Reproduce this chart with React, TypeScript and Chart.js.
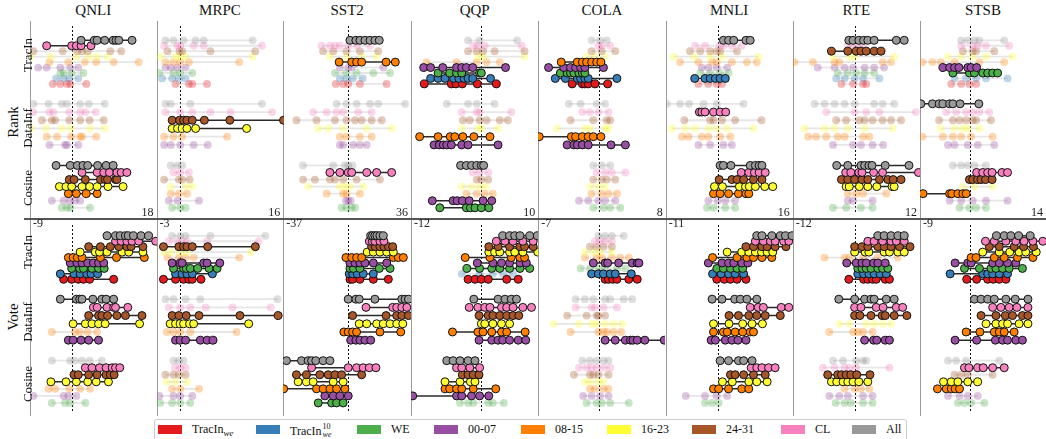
import React, { useEffect, useRef } from "react";
import { Chart, registerables } from "chart.js";
Chart.register(...registerables);

const FONT = "'Liberation Serif', 'Times New Roman', Times, serif";

const TASKS = ["QNLI", "MRPC", "SST2", "QQP", "COLA", "MNLI", "RTE", "STSB"];
const MIN_LABELS = ["-9", "-3", "-37", "-12", "-7", "-11", "-12", "-9"];
const MAX_LABELS = ["18", "16", "36", "10", "8", "16", "12", "14"];
const X_MIN = [-8.83, -3.36, -37.4, -12.1, -7.25, -11.0, -11.78, -9.06];
const X_MAX = [18.09, 15.57, 36.0, 9.93, 7.79, 16.0, 12.29, 13.77];
const MODES = ["Rank", "Vote"];
const GROUPS = ["TracIn", "DataInf", "Cosine"];

const METHODS = ["TracIn_we", "TracIn10_we", "WE", "00-07", "08-15", "16-23", "24-31", "CL", "All"];
const COLORS = ["#e41a1c", "#377eb8", "#4daf4a", "#984ea3", "#ff7f00", "#ffff33", "#a65628", "#f781bf", "#999999"];
// rows of each group, top to bottom (indices into METHODS)
const GROUP_METHODS = [
  [8, 7, 6, 5, 4, 3, 2, 1, 0],
  [8, 7, 6, 5, 4, 3],
  [8, 7, 6, 5, 4, 3, 2],
];

// ---------- data (22 rows per panel: TracIn 9 | DataInf 6 | Cosine 7) ----------
const QNLI_RANK = [
  [2, 4.8, 5.4, 7, 8.8, 9.4, 10, 12.8], [-5.3, 0, 1, 2, 4.1], [-8.1, -1.9, 1.2, 2.2, 3.4, 8.2, 10.5],
  [-8.7, -4.4, 1, 3.6, 5.4, 7.6], [-4.7, -0.7, 2.8, 5.2, 8.9, 14.2], [-7.1, -5.3, -2.4, -0.3, 1.4],
  [-2.4, -1.7, 0, 2.5], [-3.3, -1.7, -0.5, 1.4], [-4, -2.4, -1, -0.3, 3.1],
  [-8.1, -4.9, -2.1, -1, 1.8, 3.6, 7], [-8.2, -4.7, -3.9, -0.5, 1.8, 2.9, 5.1], [-6.3, -4.2, -3.5, -0.5, 1.8, 3.8, 6.8],
  [-8.7, -5.4, -2.1, -0.2, 3.9, 7], [-5.3, -3.1, -0.1, 1.8, 2.2, 5.2], [-4.7, -1.4, -1, 1.4],
  [-3.3, -0.3, 1.2, 2.4, 3.4, 5.5, 7.3, 8.8], [2.2, 5.4, 6.8, 8, 9.6, 10.5, 11.7], [-0.5, 0.5, 2.9, 6.1, 7.1, 7.6, 9.3, 9.6],
  [-2.6, -1.2, 0, 2.2, 3.8, 5.4, 7.7, 10.9], [-0.7, 1, 3.1, 5.4], [-4.2, -1.7, -0.3, 0.7, 1.8], [-2.1, -1, -0.3, 3.9],
];
const QNLI_VOTE = [
  [7.5, 9.3, 10.3, 11.4, 12, 13.1, 14.7, 16.3], [9.3, 10.5, 11.7, 12.8, 14.2, 17.8], [3.6, 6.1, 8.2, 10, 11.7, 12.6, 15.1],
  [1.8, 5, 5.9, 7.5, 10.7, 12.1, 15.1], [-0.7, 0.3, 1.2, 2.2, 6.1, 9.5, 15.4], [-0.3, 1.1, 2.2, 3.4, 4.6, 5.7, 6.8],
  [0, 1.7, 2.5, 4.3, 5.7, 6.9], [-2.4, 0.5, 1.8, 3.2, 4.1, 5.5], [-1.7, 0, 1.4, 2.5, 3.8, 8.9],
  [-2.4, 1, 1.7, 2.2, 4.5, 6.4, 7.3, 8.9], [4.6, 5.4, 7.5, 8.9, 9.3, 11.9], [3.6, 5.7, 6.4, 7.6, 9.6, 11.4, 14.9],
  [0.3, 2.9, 4.3, 5.7, 7.1, 14.4], [-4.2, 0.7, 1.8, 3.4, 5.4], [-0.7, 0.3, 2, 3.6, 5.7],
  [-4.2, -0.3, 0.7, 2.2, 3.8, 6.4], [2.9, 4.3, 5.9, 7.3, 8.6, 9.3, 10.2], [0.5, 1.4, 3.6, 5.4, 7.3, 8.2, 9],
  [-4.4, -1.2, 1, 3.4, 5.2, 7.8], [-4.9, -3.5, -0.5, 1.8, 3.9], [-8.1, -1.7, -0.7, 1], [-4.2, -1.4, -0.3, 2.9],
];
const MRPC_RANK = [
  [-2.1, -0.9, 0.6, 2.4, 3.6, 10.9], [-2.3, -0.3, 0.1, 2.1, 3.6, 12.3], [-1.8, 0, 0.4, 4.6, 11.3],
  [-2.8, -0.6, 0.1, 0.9, 10.9], [-2.1, -0.9, 0.1, 1.4, 8.9], [-2.1, -1.3, -0.3, 0.9],
  [-3, -0.9, 0.1, 1.9], [-2.6, -1.1, -0.1, 0.9], [-0.6, 1.4, 1.9, 4.1],
  [-2.1, -1.3, 1.6, 12.3], [-2.1, 0.1, 1.9, 4.6, 7.6, 13.8], [-1.1, 0, 0.6, 1.1, 1.9, 3.7, 7.5, 15.5],
  [-1.1, -0.3, 0.4, 1.1, 2.4, 10], [-2.3, -0.9, 0.4, 7.1], [-2.3, -1.3, 0.1, 2.1, 4.2],
  [-1.3, -0.3, 0.4], [-0.9, 0.1, 1.4], [-2.3, -0.1, 0.4, 1.5],
  [-1.3, 0.9, 1.9], [-1.3, -0.1, 1.1], [-1.6, -0.3, 2.9], [-1.1, 0.1, 0.9],
];
const MRPC_VOTE = [
  [-1.1, 0.1, 0.9, 4.6, 12.8], [-1.6, -0.3, 0.4, 1.1, 4.1, 11.8], [-2.4, -0.1, 0.6, 1.1, 1.9, 4.2, 11.3],
  [-2.3, -1.3, 0.1, 1.1, 10.6], [-1.8, -0.1, 0.9, 2.1, 8.9], [-1.1, 0.1, 0.4, 3.6, 4.1, 6],
  [-0.9, 0.6, 1, 1.6, 2.7, 4.4, 5.6], [-0.6, 0.4, 1.1, 1.9, 4.9], [-2.4, -0.6, 0.6, 1.4, 1.9, 3.2],
  [-2.1, -0.9, 0.9, 3.1, 14.6], [-1.6, 0.1, 1.6, 3.9, 7.9, 13.6], [-1.1, -0.1, 1, 2.9, 9, 14.7],
  [-1.4, -0.6, 0.1, 0.6, 1.5, 2.1, 10.3], [-1.9, -0.9, 0.1, 1.6, 8.5], [-0.6, 0.1, 0.9, 3.1, 4.1, 5],
  [-0.9, -0.1, 0.6], [-0.7, 0.1, 0.9], [-2.1, -0.9, -0.1, 0.9],
  [-1.9, -0.6, 1.1], [-1.1, 0.1, 2.9], [-3, -0.9, 0.1, 1.9], [-2.9, -1.1, 0.1, 1.6],
];
const SST2_RANK = [
  [1, 4.4, 6.7, 9.6, 12.5, 15.3, 17.8], [-15.3, -10.5, -7.6, -4.8, 0, 4.8, 12.5], [-14.4, -8.6, -1, 6.7, 17.2],
  [-10.5, -1, 7.7, 16.3], [-5.2, 2, 4.8, 7.7, 21.7, 27], [-4.8, 0, 2, 20.1],
  [-7.6, -1.3, 4.8, 14.4, 24], [-4.8, -1, 2.5, 8.3], [-7.1, -2.9, 0, 6.7, 22],
  [-6.7, -1, 4.8, 12.5, 17.2, 32.6], [-20.1, -12.4, -6.7, -2.9, 5.7, 13.4], [-29.7, -18.2, -7.6, -1, 3.9, 7.7, 13.4, 19.2],
  [-17.2, -11.5, -2.9, 10.6, 24.9], [-4.8, -1, 6.7, 13.4], [-4.8, -2.9, 2.9, 6.7, 10.6],
  [-25.9, -8.6, -1.9, 0, 2.5], [-10.5, -4.8, 0, 2, 10.6, 16.3, 24.9], [-25.9, -19.1, -10.5, -7.6, -2.9, 4.8, 18.2],
  [-23, -4.8, -1.9, 1, 8.6], [-12.4, -2.9, -1, 6.7], [-1.3, 0, 1.4], [-3.8, -1, 2, 3.9],
];
const SST2_VOTE = [
  [12.9, 14, 15.3, 16.5, 18.2, 20.1], [12.1, 13.8, 15.3, 18.2, 20.5], [13.4, 15.5, 18.2, 20.5, 23, 25.5],
  [10.9, 14.4, 18.2, 22.1, 25.9], [-1.3, 2, 4.8, 7.7, 25.9, 28.7, 31.6], [1, 3.9, 6.7, 9.6, 14.4, 22.1],
  [1, 2.9, 6.7, 17.8, 24], [0.6, 2.5, 5.2, 8.6, 14.4], [1, 2.5, 6.7, 14.4, 23],
  [0, 4.4, 6.3, 15.3, 30.7, 32.6, 34.5], [10.2, 25.5, 27.8, 30.7, 33.6], [2.5, 21.7, 27.8, 30.7, 34.5],
  [6.3, 10.6, 16.3, 20.1, 24, 27.8, 31.3], [-2.5, 0, 2.5, 4.8, 18.2, 30.1], [1.4, 4.4, 6.7, 9.6, 12.9],
  [-35.4, -26.8, -23, -21, -18.6, -14.4, -10.5], [-21, 0, 4.8, 8.6, 12.1, 15.9], [-29.7, -23.9, -16.3, -11.5, -7.6, -3.8, 7.7],
  [-28.7, -23.9, -20.1, -8.6, -2.9], [-37, -18.2, -14.4, -10.5, -6.7, -1.9], [-13.4, -8.6, -4.8, 0], [-17.2, -9.5, -6.7, -2.9],
];
const QQP_RANK = [
  [-2.2, -0.2, 6.3], [-1.3, -0.5, 0.7, 7.1], [-2.2, -0.7, 0.4, 2.4, 7.6],
  [-0.5, 0.4, 7.6], [-9.4, -4.2, -0.7, 1, 3.3], [-9.9, -8.7, -6.6, -4.2, -3.3, -2.5, -1.4, 4.3],
  [-7.4, -5.4, -4.2, -3.3, -0.2, 0.1], [-8.7, -7.4, -6.2, -4.7, -3.8, -2.9, -2.2, -1.4, 1.7], [-9.8, -5.1, -4.3, -3.2, -0.6, 2.7],
  [-5.9, -2.2, -0.7, 2.4], [-3.3, -0.7, -0.2, 5.3], [-3.1, -1.9, -0.2, 1, 3.3, 4.7],
  [-3.3, -0.5, 0.1, 3], [-10.6, -7.4, -5.3, -4.5, -3.1, -1.2, 1.6], [-8.1, -7.2, -6.5, -5.9, -5.1, -3.3, -2.2, 3],
  [-3.5, -2.5, -1.6, -0.7, 0.1, 0.5], [-1.4, -0.2, 1.3], [-0.7, 0.1, 1.3],
  [-3.3, -1.6, -0.2, 0.9], [-2.5, -0.7, 0.7, 2.1], [-8.4, -4.8, -4.1, -3.2, -2, 0.4, 1.9], [-7.1, -2.5, -1.8, -1, 0.1, 1.4],
];
const QQP_VOTE = [
  [3.8, 5, 5.9, 6.8, 8.5, 9.8], [2.7, 4.2, 5.6, 7.3, 9.1], [1.4, 3, 5, 6.8, 7.6, 9.1],
  [1.4, 2.4, 3.3, 5, 5.9, 7.3, 9.9], [-2.7, 1.6, 5.3, 6.8, 7.6], [-0.6, 2.1, 3.6, 5, 6.8, 7.9],
  [-2.4, -0.2, 1.9, 3.3, 5, 6.8, 8.5], [-3.3, -0.2, 2.1, 3.9, 5.6], [-2.2, -1, 0.1, 1.3, 4.5, 6.5],
  [-1.2, 3, 4.2, 5.3, 6.2], [-2, -0.5, 0.7, 1.6, 3.6, 4.5, 5.6, 7.3, 8.8], [-0.3, 1.3, 2.1, 3.3, 4.5, 5.6, 6.6],
  [0.1, 0.7, 2.1, 3.6, 5], [-4.9, -0.5, 0.4, 1.9, 3.6, 4.5, 7.7], [-0.3, 1.9, 3, 3.8, 5, 6.5, 7.8],
  [-5.9, -4.8, -3.6, -2.2, -1], [-4.2, -3.3, -1.9, -0.2], [-3.2, -2.2, -1.3, -0.3],
  [-6.2, -3.6, -1.8, -1], [-6.2, -5.4, -4.2, -3.3, -1.3, 2.6], [-11.8, -4.2, -3.3, -1.6, -0.2, 1.4], [-3.6, -2.2, -1.3, 1.3, 2.1, 4],
];
const COLA_RANK = [
  [-0.9, 0.1, 0.9], [-0.1, 0.3, 1.3], [-0.9, 0.3, 1.9],
  [-1.5, -0.5, 0.7], [-4.5, -2.6, -2, -1.5, -0.9, -0.3, 0.2], [-6, -4.2, -3.4, -2.8, -2.2, -1.7, 0.5],
  [-4.6, -3.8, -3.4, -3, -2.4, -2, -1.7], [-5.2, -4, -2.6, -2.2, -1.7, -1.3, 2.1], [-3.2, -2, -1.7, -1.3, -0.5, 1],
  [-3.6, -2.2, -0.3, 0.7], [-2, -1.1, -0.1, 1.1], [-3.4, -0.7, 0.9, 1.3],
  [-5, -1.7, -1.1, 0.7, 1.1], [-7.1, -3.3, -2.8, -2, -1.3, -0.7, 0.2], [-3.8, -3, -2.6, -2, -1.3, 1.4, 3.1],
  [-0.7, 0.3, 1.3], [-0.3, 0.7, 1.5, 3.1], [-0.7, 0.3, 0.9, 1.9],
  [-1.1, -0.1, 0.7], [-0.9, 0.3, 1.1, 2.1], [-2.4, -1.3, -0.1, 0.7, 1.9], [-0.7, 0.5, 1.3, 2.5],
];
const COLA_VOTE = [
  [-0.1, 0.7, 1.5, 2.9], [-0.5, 0.1, 0.7, 1.5], [-1.1, -0.3, 0.5, 1.5],
  [-1.7, -0.7, 0.1, 1.5], [-1.7, -0.3, 0.3, 1.5, 2.5, 3.5], [-0.7, 0.7, 1, 2.3, 3.9, 4.5, 4.7],
  [-2.2, -1.1, -0.1, 0.7, 2.1, 3.1], [-0.9, -0.1, 0.5, 1.3, 1.9, 3.8], [0.7, 1.1, 1.6, 2.1, 3.5, 4.5],
  [-2.8, -1.7, -0.7, 0.7, 1.3, 2.9, 3.9], [-2.8, -0.9, -0.5, 0.5, 2.1], [-3.8, -1.5, -0.3, -0.1, 0.7],
  [-5.4, -2.4, -0.9, -0.3, 0.7, 1.7, 2.7], [-3.4, -0.1, 0.5, 0.9, 1.7, 2.6], [0.7, 1.9, 3.1, 3.7, 4, 4.5, 5.4, 7.7],
  [-2, -1.1, -0.3, 0.5, 1.1], [-2.4, -1.5, -0.9, -0.3, 0.5, 1.3], [-3, -1.1, -0.7, -0.1, 1.1],
  [-1.7, -1.1, -0.1, 0.5], [-1.1, -0.5, 0.5, 1.1], [-1.9, -0.9, 0.1, 1.1], [-1.5, -0.3, 0.3, 1.3, 3.5],
];
const MNLI_RANK = [
  [1.2, 2.3, 3.4, 6, 6.9], [-4.8, -2.7, 0.5, 1.2, 3, 5.1], [-5.9, -3.7, -1.6, -0.2, 0.5, 4.1],
  [-9.4, -5.1, -1.6, 0.9, 8.7], [-8, -4.1, -1.2, -0.2, 3, 6.2, 8.3], [-3.4, -2, -0.2, 2],
  [-3.7, -1.6, 0.5, 2.3], [-4.9, -2.7, -1.6, -0.5, 0.5, 1.6], [-4.1, -2, -0.2, 0.9],
  [-10.8, -8, -6.1, -3, -0.2, 5.5], [-3.9, -3.4, -2.7, -0.9, 0.5, 1.7], [-7.1, -1.6, -0.9, 0.9, 3.7, 9.3],
  [-9.7, -6.9, -4.8, -2, -0.2, 2, 7.6], [-7.6, -6.2, -3.4, -2, 0.5, 2.7], [-4.1, -1.6, 1.2, 3],
  [0.5, 1.2, 2.8, 6.9, 8, 8.8, 9.4], [5, 6.6, 7.8, 8.8, 10.1], [0.3, 3, 4.1, 5.5, 7.6, 9.4],
  [-0.7, 1, 4.6, 5.9, 6.7, 8, 10, 11.7], [-0.9, 0.5, 2.3, 4.4, 6, 6.6], [-2, 0, 1.6, 3.7], [-2.3, -0.9, 1.6, 3.7],
];
const MNLI_VOTE = [
  [8.3, 9.4, 11.5, 13.3, 14.4, 15.8], [8, 9.7, 11.2, 12.2, 14, 15.1], [6, 7.6, 9.4, 10.5, 12.2, 14.5],
  [2, 5.1, 6.6, 8, 9.3, 10.5, 11.7], [-1.1, 4.1, 6.2, 7.6, 9.4, 11.5], [-2, 0.9, 2.3, 3.4, 5.1, 6.4],
  [-0.2, 1.2, 2.7, 4.1, 5.3], [-1.1, 0.7, 2.3, 3.7, 5.5], [-0.2, 1.4, 2.7, 4.1, 6],
  [-1.2, 0.9, 3.6, 4.8, 6.2, 8.3], [6.9, 8.6, 9.7, 13.5, 15.1], [2.4, 4.4, 6.6, 8.3, 10.1, 13.3],
  [-0.9, 2.4, 5.3, 7.3, 9.5], [-0.9, 1.2, 2, 3.7, 5.3, 6.9, 7.6], [-1.4, -0.5, 1.6, 3, 4.3, 6],
  [0.5, 2.3, 4.4, 5.5, 7.3], [7.1, 8.3, 9.4, 10.8, 12.2], [2.7, 3.7, 5.5, 7.6, 10.1],
  [1, 3.1, 6.6, 8.3, 10.5], [-0.9, 0.2, 2.3, 5.1, 6.6], [-6.8, -2.7, -0.2, 2], [-2.7, -1.2, 0.2],
];
const RTE_RANK = [
  [-1.2, -0.4, 0.7, 1.6, 2.4, 3.6, 7.8, 9.3], [-1.4, -0.4, 0.5, 1.5], [-4.5, -1.4, 0.2, 1.1, 2.1, 3.6, 4.9],
  [-4.2, -1.1, -0.1, 7.4], [-11.5, -8, -3.9, -3, 5.2, 6.8], [-7.1, -3.9, -2, -0.4, 1.8, 3.6, 5.5],
  [-3.3, -1.4, 0.2, 1.8, 3.6], [-3.6, -2, -0.1, 1.5, 4.6], [-2.6, -0.4, 1.5, 2.1],
  [-7.7, -5.8, -3.9, -2, -0.1, 3.6, 5.2, 7.4], [-5.5, -0.1, 2.1, 4.6, 11.5], [-3.6, -1.7, 0.8, 1.8, 3.3, 5.2, 6.8, 8.7],
  [-9.6, -5.8, -3.9, -1.4, 1.8, 7.1], [-8.9, -7.4, -5.5, -3.3, -2, 1.5, 2.7], [-4.2, -0.4, 1.1, 3.3, 5.3],
  [-3.5, -1.4, 1.1, 1.8, 2.6, 3.2, 5.7, 10.2], [-1.8, -0.8, 0.7, 1.3, 3.5, 5.2, 12], [-2.6, -1.4, -0.1, 1.3, 2.4, 4.6, 6.2, 7.2, 8.7],
  [-1.7, -1.1, 0.8, 2.4, 4.1, 7, 7.4], [-1.4, 0.2, 1.5, 5.9], [-1.4, -0.4, 3.3], [-4.2, -1.7, 1.1, 3.3],
];
const RTE_VOTE = [
  [4.3, 5.5, 6.8, 8.1, 9.3], [2.4, 3.6, 5.2, 6.8, 7.8, 9.3], [-0.1, 1.3, 2.4, 4.3, 5.5, 6.8, 8.4, 10.4],
  [-0.1, 1.9, 2.6, 5.5, 6.5, 8.1, 9.3], [-5.8, -2, -1.1, 1.5, 4.3, 8.1], [-1.6, 0.2, 1.3, 2.1, 3.5, 4.3, 5.7],
  [0.5, 1.3, 2.1, 3, 4.3, 5.2, 6.2], [0.5, 1.6, 2.6, 3.6, 4.7, 5.9], [-1.2, 1.6, 2.4, 3.3, 4, 5.7, 6.5],
  [-3.1, -0.1, 1.8, 3, 3.6, 5.9, 7.4], [-0.1, 1.1, 4, 5.3, 7.8, 9], [-0.1, 0.9, 3, 5.1, 5.7, 7.4, 9.8],
  [-3, -1.1, 2.1, 3.6, 5.2, 6.8], [-4.9, -0.4, 0.5, 1.5, 3.3], [1.8, 3.5, 4.1, 5.7, 6.5],
  [-4.2, -2.3, 0.2, 1.5, 2.1], [-6.1, -3.9, -2, -1.1, 0.2, 6.5], [-5.2, -3.3, -2.6, -1.7, -0.8, 0.3, 2.8],
  [-4.5, -3.5, -2.3, -1.4, -0.4, 0.7, 2.4], [-2, -0.1, 1.1, 2.7], [-4.9, -3, -1.4, 1.5, 3.3], [-3.7, -2, -0.8, 1.5, 3.3],
];
const STSB_RANK = [
  [-1.6, -0.4, 0.8, 1.7, 6.2], [-1.6, 0.5, 1.4, 2.9, 7.1], [-1.3, 0.5, 1.1, 4.4],
  [-4, -1.6, 0.5, 2.9, 7.7], [-8.6, -6.8, -5.3, -2.8, 1.7, 6.2], [-4.9, -3.7, -2.8, -2, -0.4, 0.2, 1.2],
  [-3.1, -0.1, 0.8, 2.3, 3.2, 4.1, 5], [-2.8, -0.7, 1.1, 2.9, 6.8], [-3.4, -1.6, -0.1, 1.1],
  [-8.9, -6.8, -5.6, -4.9, -3.7, -3.1, -1.8, 1.6], [-4.3, -2.5, -0.7, 0.5, 1.7, 3.5], [-5.6, -3.1, -1.9, -0.7, 0.5, 1.1, 3.8],
  [-5.3, -2.8, -1.3, -0.4, 1.7], [-8.6, -4.9, -3.1, -1.6, 0.2, 4.1], [-4, -2.8, -0.4, 1.4, 4.4],
  [-3.1, -1.6, -0.4, 0.8, 2.9], [1.2, 2.3, 3.2, 4, 5.8, 6.8], [-0.1, 0.5, 1.4, 2, 2.8, 4],
  [-1.3, 0.8, 4.1], [-8.5, -3.7, -3.3, -2.2, -1.3, -0.7], [-3.7, -1.6, 0.5, 2.9, 6.8], [-1.9, -0.1, 1.1, 2.9],
];
const STSB_VOTE = [
  [4.8, 6.2, 7.4, 8.8, 10.9], [2.8, 4.4, 6.5, 8.3, 9.8, 11.4, 13.2], [3.5, 5.3, 8, 9.7, 11.5],
  [2.3, 5.3, 7.2, 8.9, 10.1, 12], [0.2, 1.1, 4.4, 6.2, 8.6, 11.4], [-2.7, -0.4, 0.2, 4.1, 5.3, 6.8, 8.3],
  [-1, 1.7, 3.8, 4.7, 5.9, 7.1, 9.5], [-3.6, 2.3, 3.2, 4.1, 5.3, 6.8], [-0.6, 1.2, 3.2, 4.2, 5.3, 6.5],
  [0.8, 2, 3.2, 4.4, 6.5, 8.2, 10.5], [4.1, 5.6, 7.1, 8.5, 10.5], [2, 4.7, 6.4, 7.7, 9.5, 10.5],
  [2.9, 4.7, 5.9, 6.8, 8.9, 10.5], [-0.7, 1.8, 4.4, 5.3, 6.2, 8], [-2.7, 1.2, 4.6, 5.9, 6.8, 8.3, 9.5],
  [-4, -2.5, -0.7, 5.3], [-1, -0.2, 1.4, 2.4, 4.1, 6.2], [-2.8, -1.6, -0.4, 4.1],
  [-4.8, -3.4, -2.2, -0.4, 1.4], [-5.9, -4.3, -3.4, -2.7, -1.9], [-4, -1.9, -0.4, 1.4], [-2.2, -1, 0.2, 2.6],
];

// highlighted rows (1 = emphasised), TracIn|DataInf|Cosine
const RANK_HL = [
  "110000000|000000|1111100", "000000000|001100|0000000", "100010000|000000|0100000", "000001111|000011|1000011",
  "000011111|000011|0000000", "100000010|010000|1111100", "101000000|000000|1111000", "000001100|100000|0110100",
];
const VOTE_HL = [
  "111111111|111101|0111000", "001001111|001101|0000000", "111111111|111111|1111111", "111111101|111111|1111110",
  "000001011|000001|0000000", "111111111|111111|1111100", "111101111|111001|0011000", "111111111|111111|0101100",
];

const RANK_DATA = [QNLI_RANK, MRPC_RANK, SST2_RANK, QQP_RANK, COLA_RANK, MNLI_RANK, RTE_RANK, STSB_RANK];
const VOTE_DATA = [QNLI_VOTE, MRPC_VOTE, SST2_VOTE, QQP_VOTE, COLA_VOTE, MNLI_VOTE, RTE_VOTE, STSB_VOTE];

// ---------- layout ----------
const COL_LEFT = [30, 156.5, 283.3, 411, 538.3, 665.7, 792.7, 920, 1046];
const ROW_TOP = [21, 220];
const ROW_H = [198, 196];
const Y_RANGE = [[-0.08, 2.94], [-0.024, 2.97]];
const SPREAD = [0.7, 0.66, 0.68];
const PAD = 6;

function fade(hex: string, a: number) {
  const n = parseInt(hex.slice(1), 16);
  return `rgba(${(n >> 16) & 255},${(n >> 8) & 255},${n & 255},${a})`;
}

const zeroLine = {
  id: "zeroLine",
  beforeDatasetsDraw(chart: any) {
    const { ctx, chartArea, scales } = chart;
    const x = Math.round(scales.x.getPixelForValue(0)) + 0.5;
    ctx.save();
    ctx.strokeStyle = "#111";
    ctx.lineWidth = 1;
    ctx.setLineDash([2, 2]);
    ctx.beginPath();
    ctx.moveTo(x, chartArea.top);
    ctx.lineTo(x, chartArea.bottom);
    ctx.stroke();
    ctx.restore();
  },
};

function Panel({ col, mode }: { col: number; mode: number }) {
  const ref = useRef<HTMLCanvasElement>(null);
  const w = Math.round(COL_LEFT[col + 1] - COL_LEFT[col]) + 2 * PAD;
  const h = ROW_H[mode];
  useEffect(() => {
    const rows = (mode === 0 ? RANK_DATA : VOTE_DATA)[col];
    const hl = (mode === 0 ? RANK_HL : VOTE_HL)[col].replace(/\|/g, "");
    const datasets: any[] = [];
    let r = 0;
    GROUP_METHODS.forEach((methods, g) => {
      const n = methods.length;
      methods.forEach((m, i) => {
        const y = g + 0.5 - SPREAD[g] / 2 + (i * SPREAD[g]) / (n - 1);
        const vals = [...rows[r]].sort((a, b) => a - b);
        const on = hl[r] === "1";
        datasets.push({
          label: `${GROUPS[g]} ${METHODS[m]}`,
          data: vals.map((v) => ({ x: v, y })),
          showLine: true,
          borderColor: on ? "#2a2a2a" : "rgba(200,200,200,0.45)",
          borderWidth: on ? 1.5 : 1.8,
          pointRadius: on ? 4 : 3.9,
          pointHoverRadius: 4,
          pointBackgroundColor: on ? COLORS[m] : fade(COLORS[m], 0.32),
          pointBorderColor: on ? "#111111" : "rgba(0,0,0,0)",
          pointBorderWidth: on ? 1 : 0,
          order: on ? 0 : 1,
        });
        r++;
      });
    });
    const chart = new Chart(ref.current!, {
      type: "scatter",
      data: { datasets },
      options: {
        animation: false,
        responsive: false,
        maintainAspectRatio: false,
        devicePixelRatio: 1,
        events: [],
        layout: { padding: { left: PAD, right: PAD, top: 0, bottom: 0 } },
        plugins: { legend: { display: false }, tooltip: { enabled: false } },
        scales: {
          x: { type: "linear", min: X_MIN[col], max: X_MAX[col], display: false },
          y: { type: "linear", min: Y_RANGE[mode][0], max: Y_RANGE[mode][1], reverse: true, display: false },
        },
      } as any,
      plugins: [zeroLine],
    });
    return () => chart.destroy();
  }, [col, mode]);
  return (
    <canvas
      ref={ref}
      width={w}
      height={h}
      style={{ position: "absolute", left: Math.round(COL_LEFT[col]) - PAD, top: ROW_TOP[mode], width: w, height: h }}
    />
  );
}

function VText({ x, y, size, children }: { x: number; y: number; size: number; children: any }) {
  return (
    <div
      style={{
        position: "absolute",
        left: x,
        top: y,
        transform: "translate(-50%, -50%) rotate(-90deg)",
        fontSize: size,
        lineHeight: `${size}px`,
        whiteSpace: "nowrap",
        fontFamily: FONT,
        color: "#111",
      }}
    >
      {children}
    </div>
  );
}

function LegendLabel({ i }: { i: number }) {
  if (i === 0)
    return (
      <span>
        TracIn<sub style={{ fontStyle: "italic", fontSize: 9, verticalAlign: "-3px" }}>we</sub>
      </span>
    );
  if (i === 1)
    return (
      <span style={{ display: "inline-flex", alignItems: "center" }}>
        TracIn
        <span style={{ display: "inline-flex", flexDirection: "column", fontSize: 8, lineHeight: "8px", marginLeft: 1 }}>
          <span>10</span>
          <span style={{ fontStyle: "italic" }}>we</span>
        </span>
      </span>
    );
  return <span>{METHODS[i]}</span>;
}

const LEGEND_X = [158, 256, 357, 434, 521, 607, 692, 781, 852];

export default function App() {
  useEffect(() => {
    document.body.style.margin = "0";
    document.body.style.background = "#fff";
  }, []);
  const panels: any[] = [];
  for (let m = 0; m < 2; m++) for (let c = 0; c < 8; c++) panels.push(<Panel key={`${m}-${c}`} col={c} mode={m} />);
  return (
    <div style={{ position: "absolute", left: 0, top: 0, width: 1046, height: 439, background: "#fff", overflow: "hidden", fontFamily: FONT }}>
      {/* panel borders */}
      {COL_LEFT.slice(0, 8).map((x, i) => (
        <div key={`v${i}`} style={{ position: "absolute", left: Math.round(x), top: 21, width: 1, height: 395, background: "#9a9a9a" }} />
      ))}
      <div style={{ position: "absolute", left: 24, top: 218, width: 1022, height: 2, background: "#555" }} />
      {panels}
      {/* titles */}
      {TASKS.map((t, i) => (
        <div
          key={`t${i}`}
          style={{
            position: "absolute",
            left: COL_LEFT[i],
            width: COL_LEFT[i + 1] - COL_LEFT[i],
            top: 3,
            textAlign: "center",
            fontSize: 15,
            lineHeight: "15px",
            color: "#111",
          }}
        >
          {t}
        </div>
      ))}
      {/* axis range labels */}
      {MAX_LABELS.map((t, i) => (
        <div
          key={`mx${i}`}
          style={{ position: "absolute", left: COL_LEFT[i + 1] - 40, width: 37, top: 206, textAlign: "right", fontSize: 12, lineHeight: "12px", color: "#222" }}
        >
          {t}
        </div>
      ))}
      {MIN_LABELS.map((t, i) => (
        <div key={`mn${i}`} style={{ position: "absolute", left: COL_LEFT[i] + 3, top: 217, fontSize: 12, lineHeight: "12px", color: "#222" }}>
          {t}
        </div>
      ))}
      {/* row labels */}
      <VText x={13} y={122} size={15}>{MODES[0]}</VText>
      <VText x={13} y={317} size={15}>{MODES[1]}</VText>
      <VText x={27} y={55} size={13}>{GROUPS[0]}</VText>
      <VText x={27} y={128} size={13}>{GROUPS[1]}</VText>
      <VText x={27} y={188} size={13}>{GROUPS[2]}</VText>
      <VText x={27} y={252} size={13}>{GROUPS[0]}</VText>
      <VText x={27} y={322} size={13}>{GROUPS[1]}</VText>
      <VText x={27} y={384} size={13}>{GROUPS[2]}</VText>
      {/* legend */}
      <div
        style={{
          position: "absolute",
          left: 154,
          top: 419,
          width: 751,
          height: 26,
          border: "1px solid #cccccc",
          borderRadius: 3,
          background: "#fff",
        }}
      />
      {METHODS.map((_, i) => (
        <React.Fragment key={`lg${i}`}>
          <div style={{ position: "absolute", left: LEGEND_X[i], top: 425, width: 24, height: 9, background: COLORS[i] }} />
          <div style={{ position: "absolute", left: LEGEND_X[i] + 34, top: 423, fontSize: 12, lineHeight: "12px", color: "#111", whiteSpace: "nowrap" }}>
            <LegendLabel i={i} />
          </div>
        </React.Fragment>
      ))}
    </div>
  );
}
